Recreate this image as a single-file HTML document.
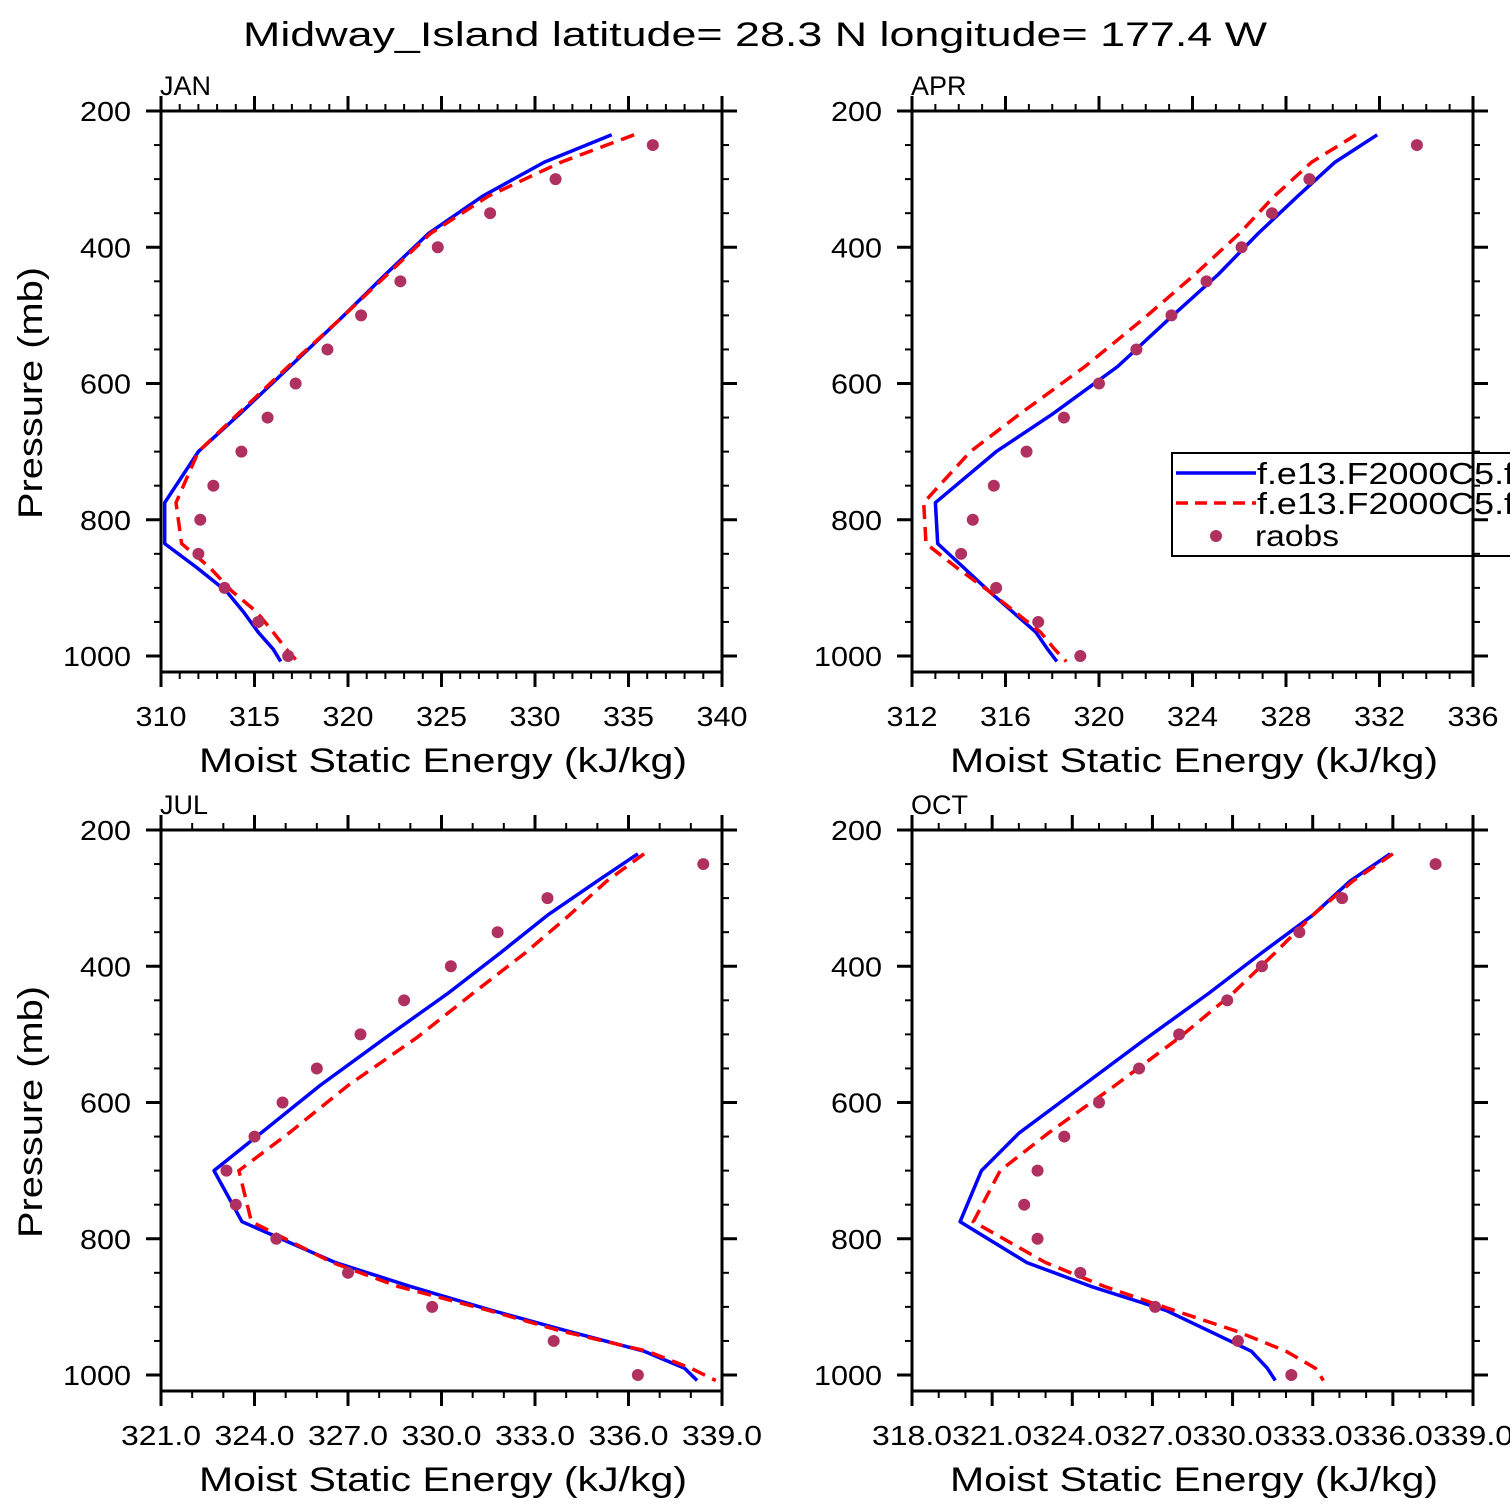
<!DOCTYPE html>
<html><head><meta charset="utf-8"><title>Midway Island MSE profiles</title>
<style>
html,body{margin:0;padding:0;background:#fff;}
svg{display:block;}
text{font-family:"Liberation Sans",sans-serif;fill:#000;}
</style></head>
<body>
<svg id="chart" width="1510" height="1510" viewBox="0 0 1510 1510" xmlns="http://www.w3.org/2000/svg">
<rect width="1510" height="1510" fill="#fff"/>
<text x="243" y="46" font-size="34" textLength="1024" lengthAdjust="spacingAndGlyphs">Midway_Island  latitude= 28.3 N longitude= 177.4 W</text>
</svg>
<script>
// shared pressure levels (mb)
const modelLevels = [235, 275, 325, 380, 440, 505, 575, 645, 700, 775, 835, 870, 905, 935, 965, 990, 1008];
const obsLevels = [250, 300, 350, 400, 450, 500, 550, 600, 650, 700, 750, 800, 850, 900, 950, 1000];
const yTicks = [200, 400, 600, 800, 1000];
const yTickLabels = ["200", "400", "600", "800", "1000"];

// JAN
const janRun1 = [334.1, 330.5, 327.2, 324.3, 322.0, 319.6, 316.9, 314.2, 312.0, 310.2, 310.2, 311.9, 313.5, 314.4, 315.2, 316.0, 316.4];
const janRun2 = [335.3, 331.4, 327.5, 324.4, 322.1, 319.6, 316.8, 314.1, 312.0, 310.8, 311.1, 312.6, 313.8, 315.1, 316.0, 316.7, 317.3];
const janObs = [336.3, 331.1, 327.6, 324.8, 322.8, 320.7, 318.9, 317.2, 315.7, 314.3, 312.8, 312.1, 312.0, 313.4, 315.2, 316.8];
const janXTicks = [310, 315, 320, 325, 330, 335, 340];
const janXLabels = ["310", "315", "320", "325", "330", "335", "340"];
// APR
const aprRun1 = [331.9, 330.1, 328.5, 326.8, 325.1, 323.0, 320.8, 318.0, 315.6, 313.0, 313.1, 314.2, 315.3, 316.3, 317.3, 317.8, 318.2];
const aprRun2 = [331.0, 329.1, 327.5, 326.0, 324.1, 321.9, 319.4, 316.6, 314.5, 312.5, 312.6, 313.9, 315.3, 316.4, 317.5, 318.1, 318.6];
const aprObs = [333.6, 329.0, 327.4, 326.1, 324.6, 323.1, 321.6, 320.0, 318.5, 316.9, 315.5, 314.6, 314.1, 315.6, 317.4, 319.2];
const aprXTicks = [312, 316, 320, 324, 328, 332, 336];
const aprXLabels = ["312", "316", "320", "324", "328", "332", "336"];
// JUL
const julRun1 = [336.3, 335.0, 333.4, 331.9, 330.2, 328.2, 326.1, 324.2, 322.7, 323.6, 326.6, 329.0, 331.6, 334.0, 336.5, 337.8, 338.2];
const julRun2 = [336.5, 335.3, 334.1, 332.7, 331.0, 329.2, 327.0, 325.1, 323.5, 323.9, 326.5, 328.6, 331.5, 333.8, 336.6, 338.0, 338.8];
const julObs = [338.4, 333.4, 331.8, 330.3, 328.8, 327.4, 326.0, 324.9, 324.0, 323.1, 323.4, 324.7, 327.0, 329.7, 333.6, 336.3];
const julXTicks = [321, 324, 327, 330, 333, 336, 339];
const julXLabels = ["321.0", "324.0", "327.0", "330.0", "333.0", "336.0", "339.0"];
// OCT
const octRun1 = [335.9, 334.4, 333.0, 331.1, 329.1, 326.8, 324.4, 322.0, 320.6, 319.8, 322.3, 324.7, 327.5, 329.1, 330.7, 331.3, 331.6];
const octRun2 = [336.0, 334.5, 333.0, 331.6, 330.0, 328.0, 325.6, 323.1, 321.3, 320.3, 323.0, 325.2, 327.8, 330.1, 332.0, 333.1, 333.4];
const octObs = [337.6, 334.1, 332.5, 331.1, 329.8, 328.0, 326.5, 325.0, 323.7, 322.7, 322.2, 322.7, 324.3, 327.1, 330.2, 332.2];
const octXTicks = [318, 321, 324, 327, 330, 333, 336, 339];
const octXLabels = ["318.0", "321.0", "324.0", "327.0", "330.0", "333.0", "336.0", "339.0"];

const NS = "http://www.w3.org/2000/svg";
const svg = document.getElementById("chart");
function mk(tag, attrs, parent) {
  const e = document.createElementNS(NS, tag);
  for (const k in attrs) e.setAttribute(k, attrs[k]);
  (parent || svg).appendChild(e);
  return e;
}
function labelLen(s) { let n = 0; for (const c of s) n += (c === "." ? 12 : 17); return n; }

function panel(name, x0, y0, xmin, xmax, minorStep, xTicks, xLabels, run1, run2, obs, legend) {
  const W = 561, H = 561;
  const g = mk("g", {});
  
  
  const xs = v => x0 + (v - xmin) / (xmax - xmin) * W;
  const ys = p => y0 + (p - 200) * 0.68125;
  const clipId = "clip-" + name;
  const cp = mk("clipPath", { id: clipId }, g);
  mk("rect", { x: x0, y: y0, width: W, height: H }, cp);

  for (let p = 200; p <= 1000; p += 50) {
    const major = yTicks.indexOf(p) >= 0;
    const len = major ? 15 : 7;
    const y = ys(p);
    const t1 = mk("line", { x1: x0 - len, y1: y, x2: x0, y2: y, stroke: "#000", "stroke-width": major ? 3 : 2 }, g);
    
    
    const t2 = mk("line", { x1: x0 + W, y1: y, x2: x0 + W + len, y2: y, stroke: "#000", "stroke-width": major ? 3 : 2 }, g);
    
    
  }
  yTicks.forEach((p, i) => {
    const t = mk("text", { x: x0 - 30, y: ys(p) + 10, "font-size": 28, "text-anchor": "end", textLength: labelLen(yTickLabels[i]), lengthAdjust: "spacingAndGlyphs" }, g);
    t.textContent = yTickLabels[i];
    
    
  });
  for (let v = xmin; v <= xmax + 1e-6; v += minorStep) {
    const major = xTicks.some(t => Math.abs(t - v) < 1e-6);
    const len = major ? 15 : 7;
    const x = xs(v);
    const b = mk("line", { x1: x, y1: y0 + H, x2: x, y2: y0 + H + len, stroke: "#000", "stroke-width": major ? 3 : 2 }, g);
    
    
    const t = mk("line", { x1: x, y1: y0 - len, x2: x, y2: y0, stroke: "#000", "stroke-width": major ? 3 : 2 }, g);
    
    
  }
  xTicks.forEach((v, i) => {
    const t = mk("text", { x: xs(v), y: y0 + H + 54, "font-size": 28, "text-anchor": "middle", textLength: labelLen(xLabels[i]), lengthAdjust: "spacingAndGlyphs" }, g);
    t.textContent = xLabels[i];
    
    
  });
  const fr = mk("rect", { x: x0, y: y0, width: W, height: H, fill: "none", stroke: "#000", "stroke-width": 3 }, g);
  
  
  const ml = mk("text", { x: x0 - 1, y: y0 - 16, "font-size": 27 }, g);
  ml.textContent = name.toUpperCase();
  
  
  const xt = mk("text", { x: x0 + 38, y: y0 + H + 100, "font-size": 34, textLength: 488, lengthAdjust: "spacingAndGlyphs" }, g);
  xt.textContent = "Moist Static Energy (kJ/kg)";
  
  
  if (x0 < 500) {
    const cy = y0 + 282;
    const yt = mk("text", { x: 0, y: 0, "font-size": 34, "text-anchor": "middle", textLength: 252, lengthAdjust: "spacingAndGlyphs", transform: "translate(42," + cy + ") rotate(-90)" }, g);
    yt.textContent = "Pressure (mb)";
    
    
  }
  const dg = mk("g", { "clip-path": "url(#" + clipId + ")" }, g);
  const pts = arr => arr.map((v, i) => xs(v).toFixed(1) + "," + ys(modelLevels[i]).toFixed(1)).join(" ");
  const l1 = mk("polyline", { points: pts(run1), fill: "none", stroke: "#0000ff", "stroke-width": 3.5, "stroke-linejoin": "round" }, dg);
  
  
  const l2 = mk("polyline", { points: pts(run2), fill: "none", stroke: "#ff0000", "stroke-width": 3.5, "stroke-dasharray": "14 8" }, dg);
  
  
  obs.forEach((v, i) => {
    const c = mk("circle", { cx: xs(v), cy: ys(obsLevels[i]), r: 6, fill: "#b03060" }, dg);
    
    
  });
  if (legend) {
    const lg = mk("g", {}, svg);
    
    
    mk("rect", { x: 1172, y: 453, width: 360, height: 103, fill: "none", stroke: "#000", "stroke-width": 2 }, lg);
    const a = mk("line", { x1: 1176, y1: 473, x2: 1256, y2: 473, stroke: "#0000ff", "stroke-width": 3.5 }, lg);
    
    
    const b = mk("line", { x1: 1176, y1: 503, x2: 1256, y2: 503, stroke: "#ff0000", "stroke-width": 3.5, "stroke-dasharray": "12 7" }, lg);
    
    
    const c = mk("circle", { cx: 1216, cy: 536, r: 6, fill: "#b03060" }, lg);
    
    
    const t1 = mk("text", { x: 1257, y: 484, "font-size": 31, textLength: 257, lengthAdjust: "spacingAndGlyphs" }, lg);
    t1.textContent = "f.e13.F2000C5.f";
    
    
    const t2 = mk("text", { x: 1257, y: 514, "font-size": 31, textLength: 257, lengthAdjust: "spacingAndGlyphs" }, lg);
    t2.textContent = "f.e13.F2000C5.f";
    
    
    const t3 = mk("text", { x: 1255, y: 546, "font-size": 30, textLength: 84, lengthAdjust: "spacingAndGlyphs" }, lg);
    t3.textContent = "raobs";
    
    
  }
}
panel("jan", 161, 111, 310, 340, 1, janXTicks, janXLabels, janRun1, janRun2, janObs, false);
panel("apr", 912, 111, 312, 336, 1, aprXTicks, aprXLabels, aprRun1, aprRun2, aprObs, true);
panel("jul", 161, 830, 321, 339, 1, julXTicks, julXLabels, julRun1, julRun2, julObs, false);
panel("oct", 912, 830, 318, 339, 1, octXTicks, octXLabels, octRun1, octRun2, octObs, false);
</script>
</body></html>
